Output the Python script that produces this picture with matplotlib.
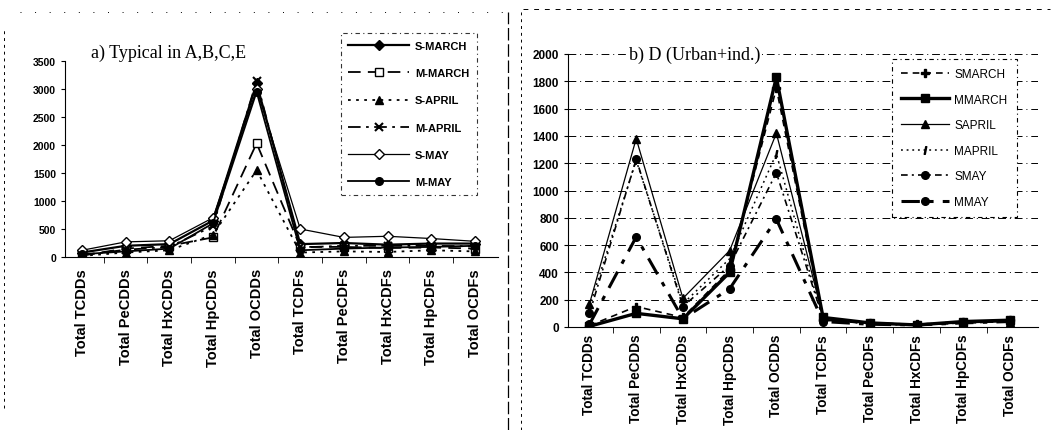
import numpy as np
import matplotlib
matplotlib.use("Agg")
import matplotlib.pyplot as plt
from matplotlib.lines import Line2D

categories = ["Total TCDDs", "Total PeCDDs", "Total HxCDDs", "Total HpCDDs", "Total OCDDs",
              "Total TCDFs", "Total PeCDFs", "Total HxCDFs", "Total HpCDFs", "Total OCDFs"]

# panel a) Typical in A,B,C,E
a_s_march = [80, 200, 230, 650, 3100, 230, 250, 220, 240, 240]
a_m_march = [30, 150, 200, 350, 2030, 180, 180, 160, 170, 150]
a_s_april = [20, 80, 120, 400, 1550, 80, 100, 90, 120, 100]
a_m_april = [30, 130, 180, 550, 3150, 170, 200, 200, 200, 190]
a_s_may = [120, 270, 290, 700, 3000, 500, 350, 370, 330, 280]
a_m_may = [50, 100, 150, 600, 2950, 120, 150, 170, 180, 200]

# panel b) D (Urban+ind.)
b_smarch = [10, 150, 70, 420, 1750, 50, 30, 20, 40, 50]
b_mmarch = [5, 100, 60, 400, 1830, 70, 30, 15, 40, 50]
b_sapril = [170, 1380, 210, 560, 1420, 70, 30, 20, 30, 40]
b_mapril = [150, 1220, 170, 500, 1270, 50, 25, 15, 30, 40]
b_smay = [100, 1230, 150, 450, 1130, 60, 20, 15, 30, 40]
b_mmay = [20, 660, 60, 280, 790, 40, 20, 15, 30, 40]

W, H = 1052, 431
fig = plt.figure(figsize=(W / 100, H / 100), dpi=100)
fig.patch.set_facecolor("white")

serif = ["Liberation Serif", "DejaVu Serif"]
sans = ["Liberation Sans", "DejaVu Sans"]
x = np.arange(len(categories))


def style_axes(ax, ylab_size, xlab_size, xpad):
    ax.spines["top"].set_visible(False)
    ax.spines["right"].set_visible(False)
    ax.set_xticks(x)
    ax.set_xticklabels(categories, rotation=90, fontsize=xlab_size, fontweight="bold", family=sans)
    ax.tick_params(axis="x", length=0, pad=xpad)
    ax.set_xticks(x[:-1] + 0.5, minor=True)
    ax.tick_params(axis="x", which="minor", length=4, direction="out")
    ax.tick_params(axis="y", length=3, direction="out", labelsize=ylab_size)
    for t in ax.get_yticklabels():
        t.set_fontweight("bold")
        t.set_family(sans)


# ---- panel a
ax1 = fig.add_axes([65 / W, 1 - 258 / H, 433 / W, 196 / H])
k = dict(color="black", ms=5.5)
ax1.plot(x, a_s_march, "-", marker="D", lw=1.6, label="S-MARCH", **k)
ax1.plot(x, a_m_march, linestyle=(0, (7, 4)), marker="s", mfc="white", lw=1.3, label="M-MARCH", **k)
ax1.plot(x, a_s_april, linestyle=(0, (1.5, 3)), marker="^", lw=1.3, label="S-APRIL", **k)
ax1.plot(x, a_m_april, linestyle=(0, (7, 3, 1.5, 3)), marker="x", mew=1.5, lw=1.3, label="M-APRIL", **k)
ax1.plot(x, a_s_may, "-", marker="D", mfc="white", lw=0.9, label="S-MAY", **k)
ax1.plot(x, a_m_may, "-", marker="o", lw=1.3, label="M-MAY", **k)
ax1.set_xlim(-0.39, 9.53)
ax1.set_ylim(0, 3500)
ax1.set_yticks(np.arange(0, 3501, 500))
style_axes(ax1, 7.5, 10.5, 8)
ax1.text(0.06, 1.0, "a) Typical in A,B,C,E", transform=ax1.transAxes, fontsize=13,
         family=serif, va="bottom", ha="left")
leg1 = ax1.legend(loc="upper left", bbox_to_anchor=(270 / 433, 1.17),
                  handlelength=5.5, labelspacing=1.55, borderpad=0.7, handletextpad=0.5,
                  prop=dict(family=sans, weight="bold", size=8), fancybox=False)
leg1.get_frame().set_linestyle((0, (4, 3, 1, 3)))
leg1.get_frame().set_edgecolor("black")
leg1.get_frame().set_linewidth(0.8)

# ---- panel b
ax2 = fig.add_axes([568 / W, 1 - 328 / H, 470 / W, 273 / H])
ax2.plot(x, b_smarch, linestyle=(0, (4, 3)), marker="P", lw=1.2, label="SMARCH", **k)
ax2.plot(x, b_mmarch, "-", marker="s", lw=2.4, label="MMARCH", **k)
ax2.plot(x, b_sapril, "-", marker="^", lw=0.9, label="SAPRIL", **k)
ax2.plot(x, b_mapril, linestyle=(0, (1.2, 2.5)), marker="$I$", lw=1.1, label="MAPRIL", **k)
ax2.plot(x, b_smay, linestyle=(0, (4, 2.5, 1.2, 2.5)), marker="o", lw=1.2, label="SMAY", **k)
ax2.plot(x, b_mmay, linestyle=(0, (6, 3, 1.5, 3)), marker="o", lw=2.2, label="MMAY", **k)
ax2.set_xlim(-0.46, 9.6)
ax2.set_ylim(0, 2000)
ax2.set_yticks(np.arange(0, 2001, 200))
ax2.yaxis.grid(True, color="black", lw=0.7, linestyle=(0, (8, 4, 1, 4)))
ax2.set_axisbelow(True)
style_axes(ax2, 8.5, 9.8, 5)
ax2.text(0.13, 1.0, "b) D (Urban+ind.)", transform=ax2.transAxes, fontsize=13,
         family=serif, va="center", ha="left",
         bbox=dict(facecolor="white", edgecolor="none", pad=1))
leg2 = ax2.legend(loc="upper left", bbox_to_anchor=(318 / 470, 1.005),
                  handlelength=4.0, labelspacing=1.15, borderpad=0.8, handletextpad=0.5,
                  prop=dict(family=sans, size=8.5), fancybox=False, framealpha=1)
leg2.get_frame().set_linestyle((0, (4, 3, 1, 3)))
leg2.get_frame().set_edgecolor("black")
leg2.get_frame().set_linewidth(0.8)

# scanned page frame lines
dash = (0, (3, 4))
fig.add_artist(Line2D([4 / W, 4 / W], [0.05, 0.93], color="black", lw=0.7, linestyle=dash))
fig.add_artist(Line2D([508 / W, 508 / W], [0.0, 0.97], color="black", lw=0.9, linestyle=(0, (10, 3))))
fig.add_artist(Line2D([521 / W, 521 / W], [0.0, 0.97], color="black", lw=0.7, linestyle=dash))
fig.add_artist(Line2D([20 / W, 505 / W], [1 - 13 / H, 1 - 13 / H], color="black", lw=0.7, linestyle=(0, (1, 14))))
fig.add_artist(Line2D([523 / W, 1050 / W], [1 - 10 / H, 1 - 10 / H], color="black", lw=0.7, linestyle=(0, (5, 6))))

fig.savefig("out.png", dpi=100)
